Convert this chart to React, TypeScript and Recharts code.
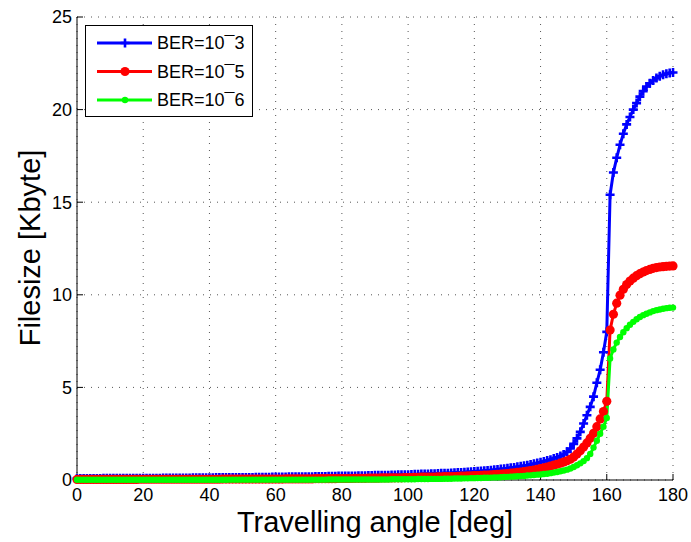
import { CartesianGrid, Line, LineChart, XAxis, YAxis } from "recharts";

const font = '"Liberation Sans", Arial, Helvetica, sans-serif';

// one sample per degree, 0..180
const angles: number[] = Array.from({ length: 181 }, (_, i) => i);

const xTicks = [0, 20, 40, 60, 80, 100, 120, 140, 160, 180];
const yTicks = [0, 5, 10, 15, 20, 25];

// BER = 10^-3 (blue)
const ber3: number[] = [
  0.08, 0.08, 0.08, 0.08, 0.08, 0.08, 0.08, 0.08, 0.09, 0.09,
  0.09, 0.09, 0.09, 0.09, 0.09, 0.09, 0.09, 0.1, 0.1, 0.1,
  0.1, 0.1, 0.1, 0.1, 0.1, 0.1, 0.11, 0.11, 0.11, 0.11,
  0.11, 0.11, 0.11, 0.11, 0.11, 0.12, 0.12, 0.12, 0.12, 0.12,
  0.12, 0.12, 0.13, 0.13, 0.13, 0.13, 0.13, 0.13, 0.14, 0.14,
  0.14, 0.14, 0.14, 0.14, 0.15, 0.15, 0.15, 0.15, 0.15, 0.16,
  0.16, 0.16, 0.16, 0.16, 0.17, 0.17, 0.17, 0.17, 0.18, 0.18,
  0.18, 0.18, 0.19, 0.19, 0.19, 0.19, 0.2, 0.2, 0.2, 0.21,
  0.21, 0.21, 0.22, 0.22, 0.22, 0.23, 0.23, 0.23, 0.24, 0.24,
  0.25, 0.25, 0.25, 0.26, 0.26, 0.27, 0.27, 0.28, 0.28, 0.29,
  0.29, 0.3, 0.31, 0.31, 0.32, 0.32, 0.33, 0.34, 0.34, 0.35,
  0.36, 0.37, 0.37, 0.38, 0.39, 0.4, 0.41, 0.42, 0.43, 0.44,
  0.46, 0.47, 0.48, 0.5, 0.51, 0.53, 0.55, 0.57, 0.59, 0.61,
  0.63, 0.66, 0.68, 0.71, 0.74, 0.77, 0.8, 0.84, 0.88, 0.92,
  0.96, 1.0, 1.05, 1.1, 1.16, 1.22, 1.29, 1.38, 1.52, 1.7,
  1.95, 2.25, 2.6, 3.05, 3.5, 3.95, 4.5, 5.25, 5.95, 6.9,
  8.0,
  15.4, 16.6, 17.4, 18.1, 18.7, 19.2, 19.6, 20.0, 20.35, 20.7,
  21.0, 21.25, 21.42, 21.57, 21.7, 21.8, 21.88, 21.94, 21.98, 22.0,
];

// BER = 10^-5 (red)
const ber5: number[] = [
  0.03, 0.03, 0.03, 0.03, 0.03, 0.03, 0.03, 0.03, 0.03, 0.03,
  0.03, 0.03, 0.03, 0.03, 0.03, 0.03, 0.03, 0.03, 0.03, 0.04,
  0.04, 0.04, 0.04, 0.04, 0.04, 0.04, 0.04, 0.04, 0.04, 0.04,
  0.04, 0.04, 0.04, 0.04, 0.04, 0.04, 0.04, 0.04, 0.04, 0.04,
  0.04, 0.04, 0.04, 0.04, 0.05, 0.05, 0.05, 0.05, 0.05, 0.05,
  0.05, 0.05, 0.05, 0.05, 0.05, 0.05, 0.05, 0.05, 0.05, 0.05,
  0.05, 0.05, 0.05, 0.06, 0.06, 0.06, 0.06, 0.06, 0.06, 0.06,
  0.06, 0.06, 0.07, 0.07, 0.07, 0.07, 0.07, 0.07, 0.07, 0.08,
  0.08, 0.08, 0.08, 0.08, 0.09, 0.09, 0.09, 0.09, 0.1, 0.1,
  0.1, 0.1, 0.11, 0.11, 0.11, 0.11, 0.12, 0.12, 0.12, 0.13,
  0.13, 0.13, 0.14, 0.14, 0.15, 0.15, 0.15, 0.16, 0.16, 0.17,
  0.17, 0.18, 0.18, 0.19, 0.19, 0.2, 0.21, 0.21, 0.22, 0.23,
  0.24, 0.24, 0.25, 0.26, 0.27, 0.28, 0.29, 0.31, 0.32, 0.33,
  0.35, 0.37, 0.39, 0.41, 0.43, 0.45, 0.48, 0.51, 0.54, 0.58,
  0.62, 0.66, 0.7, 0.75, 0.8, 0.85, 0.91, 0.97, 1.04, 1.12,
  1.24, 1.4, 1.58, 1.78, 2.0, 2.25, 2.52, 2.88, 3.3, 3.7,
  4.25,
  8.1, 8.95, 9.55, 9.98, 10.3, 10.55, 10.74, 10.9, 11.03, 11.14,
  11.23, 11.31, 11.37, 11.43, 11.47, 11.5, 11.52, 11.54, 11.55, 11.56,
];

// BER = 10^-6 (green)
const ber6: number[] = [
  0.01, 0.01, 0.01, 0.01, 0.01, 0.01, 0.01, 0.01, 0.01, 0.01,
  0.01, 0.01, 0.01, 0.01, 0.01, 0.01, 0.01, 0.01, 0.01, 0.01,
  0.01, 0.01, 0.01, 0.01, 0.01, 0.01, 0.01, 0.01, 0.01, 0.01,
  0.01, 0.01, 0.01, 0.01, 0.01, 0.01, 0.01, 0.01, 0.01, 0.01,
  0.01, 0.01, 0.01, 0.01, 0.01, 0.01, 0.02, 0.02, 0.02, 0.02,
  0.02, 0.02, 0.02, 0.02, 0.02, 0.02, 0.02, 0.02, 0.02, 0.02,
  0.02, 0.02, 0.02, 0.02, 0.02, 0.02, 0.02, 0.02, 0.02, 0.02,
  0.02, 0.02, 0.02, 0.02, 0.02, 0.02, 0.03, 0.03, 0.03, 0.03,
  0.03, 0.03, 0.03, 0.03, 0.03, 0.03, 0.03, 0.03, 0.03, 0.03,
  0.03, 0.03, 0.03, 0.03, 0.03, 0.04, 0.04, 0.04, 0.04, 0.04,
  0.04, 0.04, 0.04, 0.05, 0.05, 0.05, 0.05, 0.06, 0.06, 0.06,
  0.06, 0.07, 0.07, 0.07, 0.08, 0.08, 0.08, 0.09, 0.09, 0.1,
  0.1, 0.11, 0.11, 0.12, 0.12, 0.13, 0.14, 0.14, 0.15, 0.16,
  0.17, 0.18, 0.19, 0.2, 0.21, 0.22, 0.24, 0.25, 0.27, 0.29,
  0.3, 0.32, 0.34, 0.37, 0.4, 0.43, 0.47, 0.51, 0.56, 0.62,
  0.7, 0.8, 0.9, 1.02, 1.18, 1.4, 1.75, 2.12, 2.5, 2.88,
  3.35,
  6.56, 7.05, 7.42, 7.72, 7.98, 8.2, 8.38, 8.54, 8.68, 8.8,
  8.9, 8.98, 9.05, 9.12, 9.17, 9.21, 9.25, 9.28, 9.3, 9.31,
];

const data = angles.map((angle, i) => ({
  angle,
  ber3: ber3[i],
  ber5: ber5[i],
  ber6: ber6[i],
}));

const BLUE = "#0000ff";
const RED = "#ff0000";
const GREEN = "#00ff00";

// marker shapes, MATLAB style
const PlusDot = (props: any) => {
  const { cx, cy, index } = props;
  if (cx == null || cy == null) return <g key={`b${index}`} />;
  return (
    <path
      key={`b${index}`}
      d={`M${cx - 4.5},${cy}H${cx + 4.5}M${cx},${cy - 4.5}V${cy + 4.5}`}
      stroke={BLUE}
      strokeWidth={2.6}
      fill="none"
    />
  );
};

const CircleDot = (props: any) => {
  const { cx, cy, index } = props;
  if (cx == null || cy == null) return <g key={`r${index}`} />;
  return <circle key={`r${index}`} cx={cx} cy={cy} r={4.6} fill={RED} />;
};

const SmallDot = (props: any) => {
  const { cx, cy, index } = props;
  if (cx == null || cy == null) return <g key={`g${index}`} />;
  return <circle key={`g${index}`} cx={cx} cy={cy} r={3.2} fill={GREEN} />;
};

const legendItems = [
  { label: "BER=10¯3", color: BLUE, kind: "plus" },
  { label: "BER=10¯5", color: RED, kind: "circle" },
  { label: "BER=10¯6", color: GREEN, kind: "dot" },
];

function LegendBox() {
  return (
    <svg
      width={170}
      height={95}
      style={{ position: "absolute", left: 84, top: 24 }}
    >
      <rect x={1.5} y={1.5} width={167} height={91} fill="#fff" stroke="#000" strokeWidth={1} />
      {legendItems.map((item, i) => {
        const y = 19 + i * 28.5;
        return (
          <g key={item.label}>
            <line x1={13} x2={68} y1={y} y2={y} stroke={item.color} strokeWidth={3} />
            {item.kind === "plus" && (
              <path
                d={`M${36.5},${y}H${45.5}M41,${y - 4.5}V${y + 4.5}`}
                stroke={item.color}
                strokeWidth={2.6}
              />
            )}
            {item.kind === "circle" && <circle cx={41} cy={y} r={4.6} fill={item.color} />}
            {item.kind === "dot" && <circle cx={41} cy={y} r={3.2} fill={item.color} />}
            <text
              x={73}
              y={y}
              dominantBaseline="central"
              fontFamily={font}
              fontSize={18}
              fill="#000"
            >
              {item.label}
            </text>
          </g>
        );
      })}
    </svg>
  );
}

export default function App() {
  return (
    <div
      style={{
        position: "absolute",
        left: 0,
        top: 0,
        width: 691,
        height: 542,
        background: "#fff",
      }}
    >
      <LineChart
        width={691}
        height={542}
        data={data}
        margin={{ top: 17, right: 18, left: 0, bottom: 0 }}
      >
        <CartesianGrid stroke="#555" strokeDasharray="1 6" />
        <XAxis
          dataKey="angle"
          type="number"
          domain={[0, 180]}
          ticks={xTicks}
          interval={0}
          height={62}
          tickSize={-6}
          tickMargin={14}
          axisLine={{ stroke: "#000" }}
          tickLine={{ stroke: "#000" }}
          tick={{ fill: "#000", fontSize: 18, fontFamily: font }}
          label={{
            content: () => (
              <text
                x={375}
                y={522}
                textAnchor="middle"
                dominantBaseline="central"
                fontFamily={font}
                fontSize={29}
                fill="#000"
              >
                Travelling angle [deg]
              </text>
            ),
          }}
        />
        <XAxis
          xAxisId="top"
          orientation="top"
          type="number"
          domain={[0, 180]}
          ticks={xTicks}
          interval={0}
          height={0}
          tickSize={-6}
          axisLine={{ stroke: "#000" }}
          tickLine={{ stroke: "#000" }}
          tick={false}
        />
        <YAxis
          type="number"
          domain={[0, 25]}
          ticks={yTicks}
          interval={0}
          width={77}
          tickSize={-6}
          tickMargin={11}
          axisLine={{ stroke: "#000" }}
          tickLine={{ stroke: "#000" }}
          tick={{ fill: "#000", fontSize: 18, fontFamily: font }}
          label={{
            content: () => (
              <text
                x={30}
                y={248}
                transform="rotate(-90 30 248)"
                textAnchor="middle"
                dominantBaseline="central"
                fontFamily={font}
                fontSize={29}
                fill="#000"
              >
                Filesize [Kbyte]
              </text>
            ),
          }}
        />
        <YAxis
          yAxisId="right"
          orientation="right"
          type="number"
          domain={[0, 25]}
          ticks={yTicks}
          interval={0}
          width={0}
          tickSize={-6}
          axisLine={{ stroke: "#000" }}
          tickLine={{ stroke: "#000" }}
          tick={false}
        />
        <Line
          dataKey="ber3"
          stroke={BLUE}
          strokeWidth={3}
          dot={(p: any) => <PlusDot {...p} />}
          activeDot={false}
          isAnimationActive={false}
        />
        <Line
          dataKey="ber5"
          stroke={RED}
          strokeWidth={3}
          dot={(p: any) => <CircleDot {...p} />}
          activeDot={false}
          isAnimationActive={false}
        />
        <Line
          dataKey="ber6"
          stroke={GREEN}
          strokeWidth={3}
          dot={(p: any) => <SmallDot {...p} />}
          activeDot={false}
          isAnimationActive={false}
        />
      </LineChart>
      <LegendBox />
    </div>
  );
}
